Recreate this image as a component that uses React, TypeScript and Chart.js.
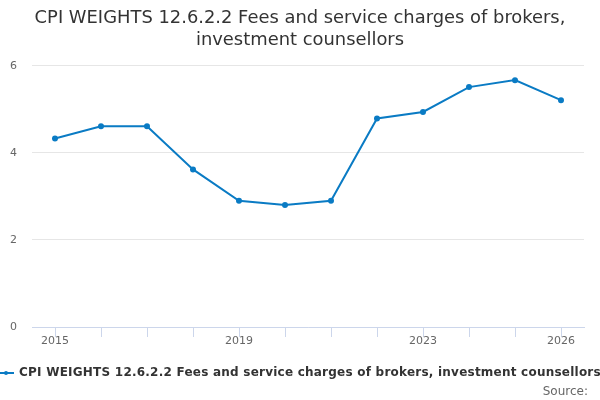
import React, { useEffect, useRef } from "react";
import { Chart, registerables } from "chart.js";

Chart.register(...registerables);

const years = ["2015", "2016", "2017", "2018", "2019", "2020", "2021", "2022", "2023", "2024", "2025", "2026"];
const weights = [4.33, 4.61, 4.61, 3.62, 2.9, 2.8, 2.9, 4.79, 4.94, 5.51, 5.67, 5.21];
const seriesName = "CPI WEIGHTS 12.6.2.2 Fees and service charges of brokers, investment counsellors";
const titleLines = ["CPI WEIGHTS 12.6.2.2 Fees and service charges of brokers,", "investment counsellors"];
const shownYears = ["2015", "2019", "2023", "2026"];
const sourceText = "Source:";

const FONT = "'DejaVu Sans', Verdana, sans-serif";
const LINE = "#0a7bc4";

// legend + source drawn by hand so the legend can run past the canvas edge like the original
const bottomLegend = {
  id: "bottomLegend",
  afterDraw(chart: any) {
    const ds = chart.data.datasets[0];
    const c = chart.ctx as CanvasRenderingContext2D;
    const y = 373;
    c.save();
    c.strokeStyle = ds.borderColor;
    c.lineWidth = 2;
    c.beginPath();
    c.moveTo(-2, y);
    c.lineTo(14, y);
    c.stroke();
    c.fillStyle = ds.borderColor;
    c.beginPath();
    c.arc(6, y, 2, 0, Math.PI * 2);
    c.fill();
    c.font = `bold 12px ${FONT}`;
    (c as any).letterSpacing = "0.23px";
    c.fillStyle = "#333333";
    c.textBaseline = "middle";
    c.textAlign = "left";
    c.fillText(ds.label, 19, y);

    (c as any).letterSpacing = "0px";
    c.font = `12px ${FONT}`;
    c.fillStyle = "#666666";
    c.textAlign = "right";
    c.fillText(sourceText, 588, 392);
    c.restore();
  },
};

const App = () => {
  const canvasRef = useRef<HTMLCanvasElement>(null);

  useEffect(() => {
    document.body.style.margin = "0";
    const ctx = canvasRef.current!.getContext("2d")!;

    const chart = new Chart(ctx, {
      type: "line",
      data: {
        labels: years,
        datasets: [
          {
            label: seriesName,
            data: weights,
            borderColor: LINE,
            backgroundColor: LINE,
            borderWidth: 2,
            pointRadius: 2,
            pointHoverRadius: 4,
            tension: 0,
          },
        ],
      },
      options: {
        animation: false,
        responsive: false,
        devicePixelRatio: 1,
        layout: { padding: { left: 16, right: 16, top: 0, bottom: 0 } },
        plugins: {
          title: {
            display: true,
            text: titleLines,
            color: "#333333",
            font: { family: FONT, size: 17.9, weight: "normal", lineHeight: 1.2 },
            padding: { top: 8, bottom: 14.8 },
          },
          legend: { display: false },
        },
        scales: {
          x: {
            offset: true,
            border: { display: true, color: "#ccd6eb" },
            grid: {
              display: true,
              offset: false,
              drawOnChartArea: false,
              drawTicks: true,
              tickLength: 10,
              color: "#ccd6eb",
            },
            ticks: {
              color: "#666666",
              font: { family: FONT, size: 11 },
              padding: -2,
              autoSkip: false,
              maxRotation: 0,
              callback: function (_v, i) {
                const y = years[i];
                return shownYears.includes(y) ? y : "";
              },
            },
            afterFit: (scale) => {
              scale.height += 53.8;
            },
          },
          y: {
            min: 0,
            max: 6,
            border: { display: false },
            grid: { color: "#e6e6e6", drawTicks: false },
            ticks: {
              stepSize: 2,
              color: "#666666",
              font: { family: FONT, size: 11 },
              mirror: true,
              padding: -22,
            },
            afterFit: (scale) => {
              scale.width = 16;
            },
          },
        },
      },
      plugins: [bottomLegend],
    });

    return () => chart.destroy();
  }, []);

  return (
    <div style={{ width: 600, height: 400 }}>
      <canvas ref={canvasRef} width={600} height={400} style={{ width: 600, height: 400 }} />
    </div>
  );
};

export default App;
